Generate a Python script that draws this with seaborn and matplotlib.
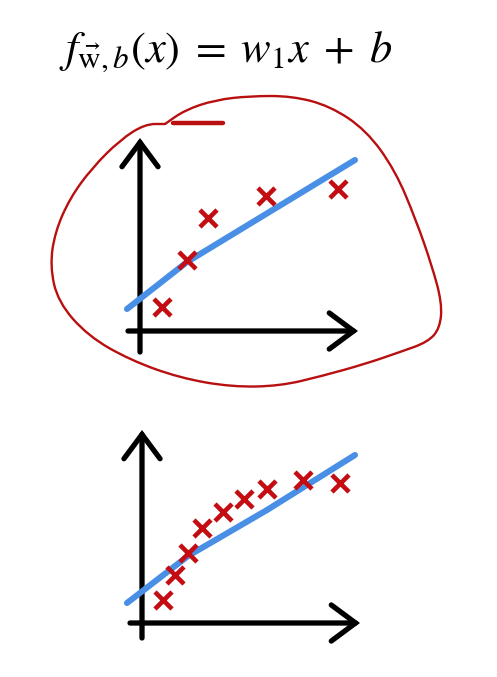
import numpy as np
import pandas as pd
import matplotlib
matplotlib.use("Agg")
import matplotlib.pyplot as plt
from matplotlib.path import Path
from matplotlib.patches import PathPatch
import seaborn as sns

# training points (arbitrary units, origin at the axis crossing)
top_x = [1.1, 2.35, 3.4, 6.3, 9.9]
top_y = [1.2, 3.55, 5.65, 6.75, 7.1]
top_fit_x = [-0.65, 2.35, 6.3, 10.75]
top_fit_y = [1.1, 3.45, 5.85, 8.55]

bot_x = [1.05, 1.65, 2.3, 3.0, 4.05, 5.1, 6.25, 8.05, 9.9]
bot_y = [1.15, 2.4, 3.5, 4.75, 5.55, 6.2, 6.7, 7.15, 7.0]
bot_fit_x = [-0.75, 2.3, 6.25, 10.65]
bot_fit_y = [1.0, 3.35, 5.65, 8.4]

# hand drawn red loop around the upper sketch (figure pixels, control points)
loop_x = [165, 185, 215, 250, 292, 330, 366, 395, 416, 432, 442, 440, 428,
          400, 365, 322, 280, 232, 180, 130, 88, 58, 50, 55, 70, 92, 120,
          145, 165]
loop_y = [124, 110, 100, 96, 96, 106, 130, 170, 220, 266, 303, 328, 342,
          352, 364, 376, 386, 387, 378, 360, 336, 302, 266, 232, 198, 168,
          140, 124, 124]
flick_x = [173, 223]
flick_y = [123, 123]

formula = r"$f_{\vec{\mathrm{w}},b}(x)\;=\;w_1x\;+\;b$"

RED = "#c40d12"
LOOP = "#b80f10"
BLUE = "#4a8fe6"

sns.set_style("white")
plt.rcParams["mathtext.fontset"] = "stix"

W, H = 497, 677
fig = plt.figure(figsize=(W / 100, H / 100), dpi=100)

bg = fig.add_axes([0, 0, 1, 1])
bg.set_xlim(0, W)
bg.set_ylim(H, 0)
bg.axis("off")

# smooth the loop: quadratic curves through midpoints of the control points
pts = np.column_stack([loop_x, loop_y]).astype(float)
mids = (pts[:-1] + pts[1:]) / 2
verts = [pts[0], mids[0]]
codes = [Path.MOVETO, Path.LINETO]
for i in range(1, len(pts) - 1):
    verts += [pts[i], mids[i]]
    codes += [Path.CURVE3, Path.CURVE3]
verts.append(pts[-1])
codes.append(Path.LINETO)
bg.add_patch(PathPatch(Path(verts, codes), fill=False, edgecolor=LOOP,
                       lw=1.7, capstyle="round", joinstyle="round"))
bg.plot(flick_x, flick_y, color=LOOP, lw=3.2, solid_capstyle="round")
bg.text(226, 52, formula, fontsize=32, ha="center", va="center",
        color="black")


def sketch(rect, xs, ys, fx, fy, xlim, ylim, ytop, xright, ybottom, xleft):
    ax = fig.add_axes([rect[0] / W, 1 - rect[3] / H,
                       (rect[2] - rect[0]) / W, (rect[3] - rect[1]) / H])
    ax.set_xlim(*xlim)
    ax.set_ylim(*ylim)
    ax.axis("off")
    ax.patch.set_alpha(0)
    arrow = dict(arrowstyle="->,head_length=1.75,head_width=1.3",
                 lw=3.8, color="black", shrinkA=0, shrinkB=0,
                 joinstyle="miter", capstyle="round")
    ax.annotate("", xy=(0, ytop), xytext=(0, ybottom), arrowprops=arrow,
                annotation_clip=False)
    ax.annotate("", xy=(xright, 0), xytext=(xleft, 0), arrowprops=arrow,
                annotation_clip=False)
    sns.lineplot(x=fx, y=fy, ax=ax, sort=False, estimator=None, color=BLUE,
                 lw=4.4, solid_capstyle="round", zorder=3)
    sns.scatterplot(x=xs, y=ys, ax=ax, marker="x", s=150, color=RED,
                    linewidth=3.3, zorder=4)
    return ax


sketch((120, 130, 365, 355), top_x, top_y, top_fit_x, top_fit_y,
       (-1.0, 11.25), (-1.2, 10.05), 9.65, 10.9, -1.05, -0.6)
sketch((120, 420, 370, 645), bot_x, bot_y, bot_fit_x, bot_fit_y,
       (-1.1, 11.4), (-1.1, 10.15), 9.65, 10.9, -0.75, -0.6)

fig.savefig("out.png", dpi=100, facecolor="white")
